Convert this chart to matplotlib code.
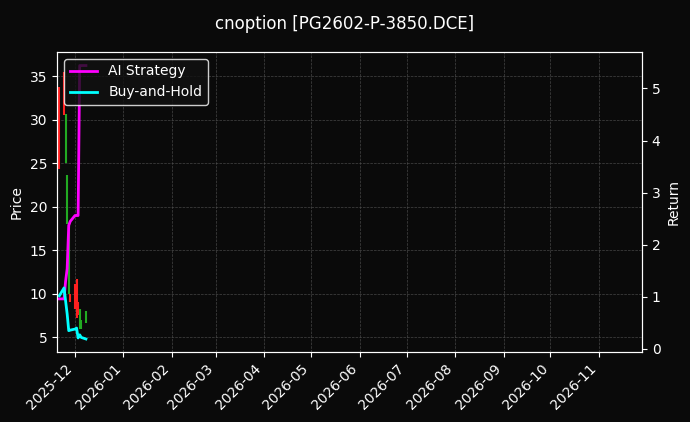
import matplotlib
matplotlib.use("Agg")
import matplotlib.pyplot as plt
import matplotlib.dates as mdates
import pandas as pd

dates = pd.to_datetime(["2025-11-21","2025-11-24","2025-11-25","2025-11-26","2025-11-27","2025-11-28",
                        "2025-12-01","2025-12-02","2025-12-03","2025-12-04","2025-12-05","2025-12-08"])
highs  = [33.8, 35.5, 30.7, 23.7, 18.0, 10.0, 11.1, 11.7, 9.0, 8.3, 7.0, 8.0]
lows   = [24.3, 30.6, 25.0, 18.0, 10.0, 9.0, 8.3, 7.2, 7.5, 6.0, 6.0, 6.6]
candle_up = [False, False, True, True, True, False, False, False, False, True, True, True]
ai_ret = [0.96, 0.96, 1.30, 1.54, 2.37, 2.45, 2.56, 2.56, 2.56, 5.44, 5.44, 5.44]
bh_ret = [1.02, 1.17, 0.92, 0.67, 0.35, 0.36, 0.38, 0.40, 0.21, 0.27, 0.22, 0.19]

bg = "#0a0a0a"
fig = plt.figure(figsize=(6.9, 4.22), dpi=100, facecolor=bg)
ax = fig.add_axes([57/690, 1-352/422, (642-57)/690, (352-52)/422])
ax.set_facecolor(bg)
for d, h, l, up in zip(dates, highs, lows, candle_up):
    ax.vlines(d, l, h, color="#22aa22" if up else "#ff2020", linewidth=1.5)
ax.set_ylim(3.3, 37.8)
ax.set_xlim(pd.Timestamp("2025-11-19 12:00"), pd.Timestamp("2026-11-28 12:00"))
ax.set_ylabel("Price", color="white")
ax.grid(True, color="#555555", linestyle="--", linewidth=0.5, alpha=0.8)
ax.xaxis.set_major_locator(mdates.MonthLocator())
ax.xaxis.set_major_formatter(mdates.DateFormatter("%Y-%m"))
for lab in ax.get_xticklabels():
    lab.set_rotation(45); lab.set_ha("right")

ax2 = ax.twinx()
ax2.plot(dates, ai_ret, color="#ff00ff", linewidth=2, label="AI Strategy")
ax2.plot(dates, bh_ret, color="#00ffff", linewidth=2, label="Buy-and-Hold")
ax2.set_ylim(-0.06, 5.7)
ax2.set_ylabel("Return", color="white")

for a in (ax, ax2):
    a.tick_params(colors="white")
    for s in a.spines.values():
        s.set_color("white")

leg = ax2.legend(loc="upper left", facecolor="#111111", edgecolor="white", labelcolor="white")
fig.suptitle("cnoption [PG2602-P-3850.DCE]", color="white", y=0.965)
fig.savefig("out.png", dpi=100, facecolor=bg)
